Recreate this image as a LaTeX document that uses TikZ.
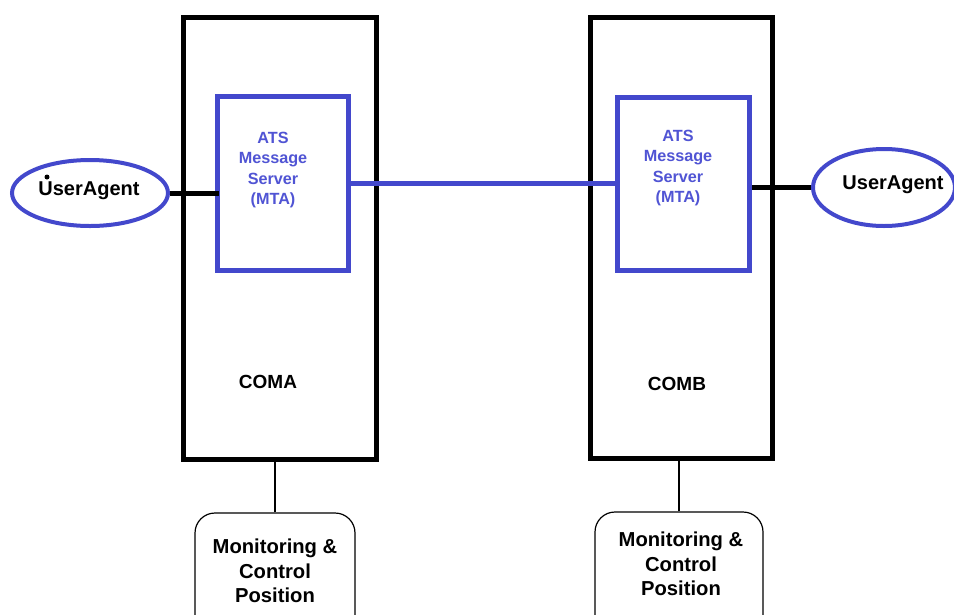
\documentclass[tikz,border=0pt]{standalone}
\usepackage{fontspec}
\setmainfont{Liberation Sans}
\usetikzlibrary{shapes.geometric}
\definecolor{mblue}{RGB}{67,72,204}
\definecolor{tblue}{RGB}{80,84,212}
\tikzset{
  combox/.style={draw=black, line width=5pt, inner sep=0pt, rectangle},
  mtabox/.style={draw=mblue, line width=5pt, inner sep=0pt, rectangle},
  mtatext/.style={text=tblue, font=\fontsize{16.2}{20.6}\selectfont\bfseries, align=center, inner sep=0pt},
  uabox/.style={draw=mblue, line width=4pt, ellipse, inner sep=0pt},
  uatext/.style={font=\fontsize{20}{24}\selectfont\bfseries, inner sep=0pt},
  comtext/.style={font=\fontsize{19}{23}\selectfont\bfseries, inner sep=0pt},
  monbox/.style={draw=black, line width=1.2pt, rounded corners=20pt, inner sep=0pt, rectangle},
  montext/.style={font=\fontsize{20.2}{24.5}\selectfont\bfseries, align=center, inner sep=0pt},
  thickblack/.style={draw=black, line width=5pt},
  thickblue/.style={draw=mblue, line width=5pt},
  thinline/.style={draw=black, line width=1.2pt}
}
\begin{document}
\begin{tikzpicture}[x=1pt,y=-1pt]
\clip (0,0) rectangle (954,614);
\fill[white] (0,0) rectangle (954,614);
% COM boxes
\node[combox, minimum width=193pt, minimum height=442pt] (coma) at (280,238.5) {};
\node[combox, minimum width=182pt, minimum height=441pt] (comb) at (681.5,238) {};
% MTA boxes
\node[mtabox, minimum width=131pt, minimum height=174pt] (mtaA) at (283,183.5) {};
\node[mtabox, minimum width=132pt, minimum height=173pt] (mtaB) at (683.5,184) {};
\node[mtatext] (txtA) at (273,170) {ATS\\Message\\Server\\(MTA)};
\node[mtatext] (txtB) at (678,168) {ATS\\Message\\Server\\(MTA)};
% COM labels
\node[comtext] (labA) at (268,382) {COMA};
\node[comtext] (labB) at (677,384) {COMB};
% User agents
\node[uabox, minimum width=156pt, minimum height=66pt] (ua1) at (90,193) {};
\node[uatext] (ua1t) at (89,191) {UserAgent};
\node[uabox, minimum width=142pt, minimum height=77pt] (ua2) at (884,187.5) {};
\node[uatext] (ua2t) at (893,185) {UserAgent};
\fill[black] (47,177) circle (2.5pt);
% connectors
\draw[thickblack] (ua1.east) -- ([xshift=4pt]ua1.east -| mtaA.west);
\draw[thickblack] (mtaB.east |- ua2.west) -- (ua2.west);
\draw[thickblue] (mtaA.east) -- (mtaA.east -| mtaB.west);
% monitoring boxes
\node[monbox, minimum width=160pt, minimum height=137pt] (monA) at (275,581.5) {};
\node[montext] (monAt) at (275,571) {Monitoring \&\\Control\\Position};
\node[monbox, minimum width=168pt, minimum height=137pt] (monB) at (679,580.5) {};
\node[montext] (monBt) at (681,564) {Monitoring \&\\Control\\Position};
\draw[thinline] (monA.north) -- (monA.north |- coma.south);
\draw[thinline] (monB.north) -- (monB.north |- comb.south);
\end{tikzpicture}
\end{document}
